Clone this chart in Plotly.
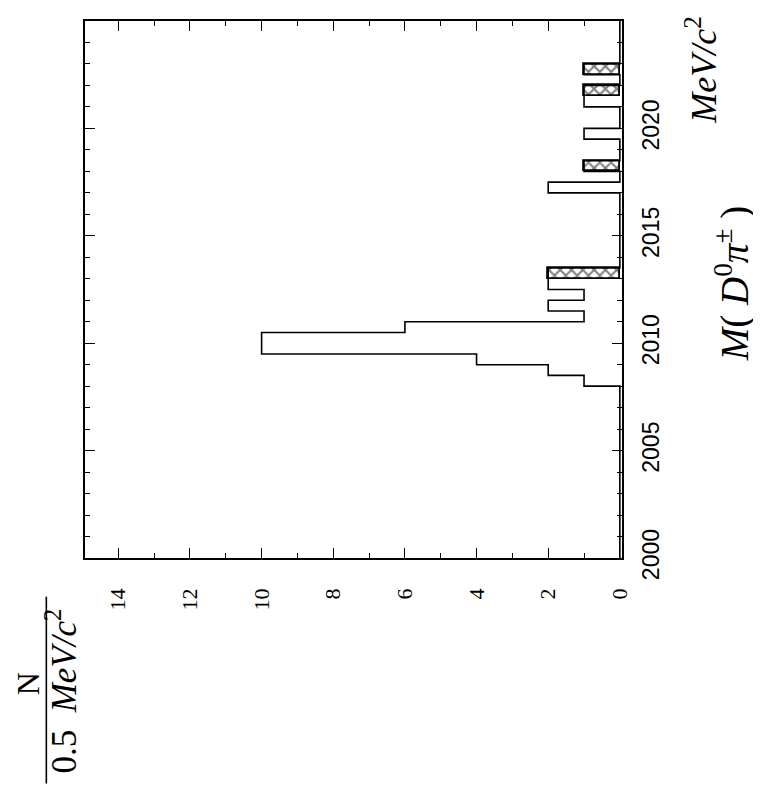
import plotly.graph_objects as go

# ---- data (bin lower edges in MeV/c^2, 0.5 MeV bins) ----
bin_width = 0.5
mass_min, mass_max = 2000.0, 2025.0
open_bins = [2008.0, 2008.5, 2009.0, 2009.5, 2010.0, 2010.5, 2011.0, 2011.5,
             2012.0, 2012.5, 2013.0, 2017.0, 2018.0, 2019.5, 2021.0, 2021.5, 2022.5]
open_counts = [1, 2, 4, 10, 10, 6, 1, 2, 1, 2, 2, 2, 1, 1, 1, 1, 1]
hatched_bins = [2013.0, 2018.0, 2021.5, 2022.5]
hatched_counts = [2, 1, 1, 1]
n_ticks = [0, 2, 4, 6, 8, 10, 12, 14]
mass_ticks = [2000, 2005, 2010, 2015, 2020, 2025]

# full histogram for step outline
nb = int(round((mass_max - mass_min) / bin_width))
edges = [mass_min + i * bin_width for i in range(nb + 1)]
full = [0] * nb
for b, c in zip(open_bins, open_counts):
    full[int(round((b - mass_min) / bin_width))] = c
sx = [0] + full + [0]
sy = [edges[0]] + edges[1:] + [edges[-1]]

fig = go.Figure()
fig.add_trace(go.Scatter(x=sx, y=sy, mode="lines", line=dict(shape="hv", color="black", width=1.6),
                         hoverinfo="skip"))
fig.add_trace(go.Bar(
    x=hatched_counts, y=[b + bin_width / 2 for b in hatched_bins], width=bin_width,
    orientation="h",
    marker=dict(color="white", line=dict(color="black", width=1.8),
                pattern=dict(shape="x", size=8, solidity=0.45, fgcolor="black", bgcolor="white"))))

# page body has an 8px margin, so the figure is drawn 8px right/down
W, H = 753, 787
fig.update_layout(
    width=W, height=H,
    margin=dict(l=77, r=139, t=11, b=237),
    plot_bgcolor="white", paper_bgcolor="white",
    showlegend=False, bargap=0,
    xaxis=dict(range=[14.93, -0.06], showgrid=False, zeroline=False,
               showline=True, linecolor="black", linewidth=1.6, mirror="ticks",
               ticks="inside", ticklen=10, tickwidth=1.3, tickcolor="black",
               tickvals=n_ticks, tickangle=-90, ticklabelstandoff=20,
               tickfont=dict(family="Liberation Serif", size=22, color="black"),
               minor=dict(dtick=1, ticks="inside", ticklen=5, tickcolor="black", tickwidth=1.2)),
    yaxis=dict(range=[mass_min, mass_max], side="right", showgrid=False, zeroline=False,
               showline=True, linecolor="black", linewidth=1.6, mirror="ticks",
               ticks="inside", ticklen=10, tickwidth=1.3, tickcolor="black",
               tickvals=mass_ticks, tickangle=-90, ticklabelstandoff=8,
               tickfont=dict(family="Liberation Sans Narrow, Liberation Sans", size=23, color="black"),
               minor=dict(dtick=1, ticks="inside", ticklen=5, tickcolor="black", tickwidth=1.2)),
)

serif = "Liberation Serif"
ann = [
    dict(text="<i>MeV/c</i><sup>2</sup>", x=1.148, y=0.91, size=36),
    dict(text="<i>M</i>( <i>D</i><sup>0</sup><i>π</i><sup>±</sup> )", x=1.205, y=0.51, size=39),
    dict(text="N", x=-0.107, y=-0.234, size=32),
    dict(text="0.5  <i>MeV/c</i><sup>2</sup>", x=-0.043, y=-0.247, size=35),
]
for a in ann:
    fig.add_annotation(text=a["text"], x=a["x"], y=a["y"], xref="paper", yref="paper",
                       showarrow=False, textangle=-90, xanchor="center", yanchor="middle",
                       font=dict(family=serif, size=a["size"], color="black"))
fig.add_shape(type="line", xref="paper", yref="paper", x0=-0.072, x1=-0.072, y0=-0.072, y1=-0.42,
              line=dict(color="black", width=1.6))

fig.write_html("out.html")
